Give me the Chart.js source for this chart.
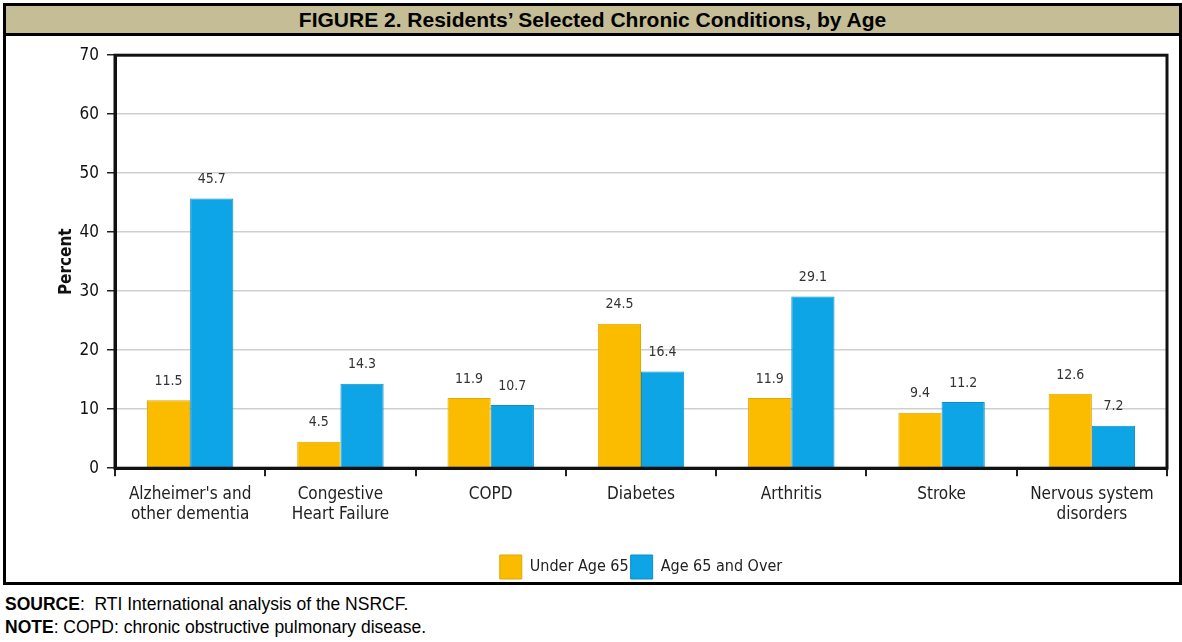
<!DOCTYPE html>
<html>
<head>
<meta charset="utf-8">
<script src="https://cdn.jsdelivr.net/npm/chart.js@4"></script>
<style>
body{margin:0;background:#fff;}
#fig{position:absolute;left:3px;top:3px;width:1173px;height:576px;border:3px solid #000;}
#title{height:27px;background:#C4BD96;border-bottom:3px solid #000;font:bold 21px "Liberation Sans",Arial,sans-serif;text-align:center;line-height:28px;color:#000;}
#wrap{position:absolute;left:2px;top:31px;width:1169px;height:552px;}
.note{position:absolute;left:5px;font:17.5px "Liberation Sans",Arial,sans-serif;color:#000;}
</style>
</head>
<body>
<div id="fig">
<div id="title">FIGURE 2. Residents’ Selected Chronic Conditions, by Age</div>
<div id="wrap"><canvas id="chronicChart"></canvas></div>
</div>
<div class="note" style="top:594px;"><b>SOURCE</b>:&nbsp; RTI International analysis of the NSRCF.</div>
<div class="note" style="top:617px;"><b>NOTE</b>: COPD: chronic obstructive pulmonary disease.</div>

<script>

// ================= DATA =================

const categories=[
["Alzheimer's and","other dementia"],
["Congestive","Heart Failure"],
"COPD",
"Diabetes",
"Arthritis",
"Stroke",
["Nervous system","disorders"]
];

const underAge65=[11.5,4.5,11.9,24.5,11.9,9.4,12.6];
const age65Over=[45.7,14.3,10.7,16.4,29.1,11.2,7.2];

const yTicks=[0,10,20,30,40,50,60,70];

const seriesNames=["Under Age 65","Age 65 and Over"];

// ================= PLUGINS =================

const narrow='"DejaVu Sans Condensed","Liberation Sans Narrow",sans-serif';

const frameBox={
id:"frameBox",
afterDraw(chart){
const a=chart.chartArea;
const ctx=chart.ctx;
ctx.save();
ctx.strokeStyle="#111";
ctx.lineWidth=3;
ctx.strokeRect(a.left,a.top,a.right-a.left,a.bottom-a.top);
ctx.restore();
}
};

const valueLabels={
id:"valueLabels",
afterDatasetsDraw(chart){
const ctx=chart.ctx;
ctx.save();
ctx.font="14px "+narrow;
ctx.fillStyle="#333";
ctx.textAlign="center";
ctx.textBaseline="bottom";
chart.data.datasets.forEach((ds,i)=>{
chart.getDatasetMeta(i).data.forEach((bar,j)=>{
ctx.fillText(ds.data[j].toFixed(1),bar.x,bar.y-12);
});
});
ctx.restore();
}
};

// ================= CHART =================

new Chart(document.getElementById("chronicChart"),{

type:"bar",

data:{
labels:categories,
datasets:[
{
label:seriesNames[0],
data:underAge65,
backgroundColor:"#FBBC00",
borderColor:"#E0A800",
borderWidth:1
},
{
label:seriesNames[1],
data:age65Over,
backgroundColor:"#0EA5E6",
borderColor:"#0B8FC8",
borderWidth:1
}
]
},

options:{
responsive:true,
maintainAspectRatio:false,
animation:false,
layout:{padding:{top:10,right:10,left:0,bottom:0}},
plugins:{
legend:{
position:"bottom",
fullSize:false,
labels:{
font:{family:narrow,size:16},
color:"#222",
boxWidth:22,
boxHeight:24,
padding:2
}
},
tooltip:{enabled:false}
},
datasets:{bar:{barPercentage:1,categoryPercentage:0.575}},
scales:{
x:{
afterFit(s){s.height+=20;},
grid:{offset:true,drawOnChartArea:false,tickLength:8,tickColor:"#222",lineWidth:2},
border:{color:"#111",width:3},
ticks:{font:{family:narrow,size:17},color:"#222",padding:8,maxRotation:0}
},
y:{
min:0,
max:70,
afterBuildTicks(s){s.ticks=yTicks.map(v=>({value:v}));},
afterFit(s){s.width=107;},
grid:{color:"#cfcfcf",lineWidth:1.5,tickLength:8,tickColor:"#222"},
border:{color:"#111",width:3},
ticks:{font:{family:narrow,size:17},color:"#111",padding:8},
title:{display:true,text:"Percent",font:{family:narrow,size:17,weight:"bold"},color:"#111",padding:{top:48,bottom:0}}
}
}
},

plugins:[frameBox,valueLabels]

});

</script>
</body>
</html>
